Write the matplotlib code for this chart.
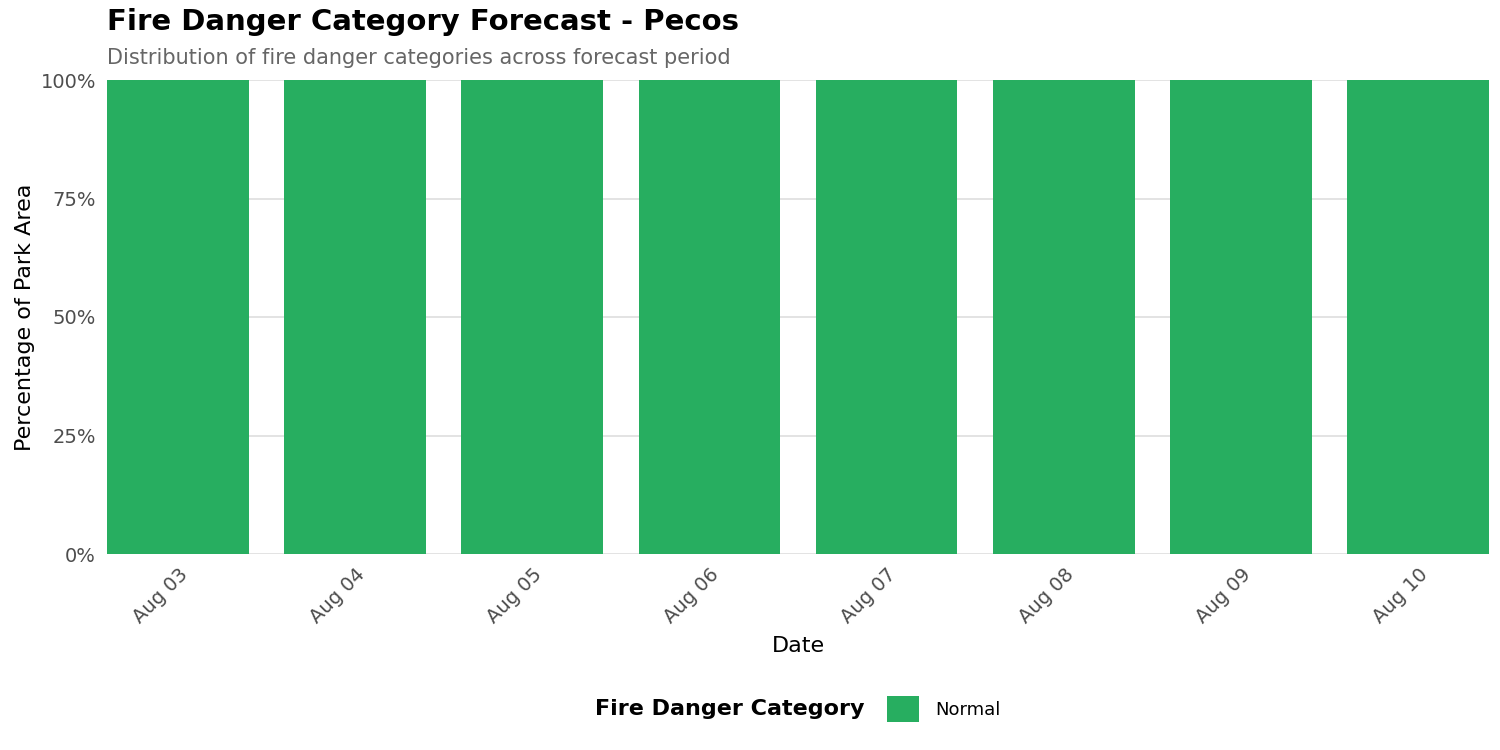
import matplotlib
matplotlib.use("Agg")
import matplotlib.pyplot as plt
from matplotlib.patches import Patch
from matplotlib.offsetbox import HPacker
import numpy as np

dates = ["Aug 03", "Aug 04", "Aug 05", "Aug 06", "Aug 07", "Aug 08", "Aug 09", "Aug 10"]
normal_share = [1.0, 1.0, 1.0, 1.0, 1.0, 1.0, 1.0, 1.0]
category = "Normal"
color_normal = "#27AE60"
yticks = [0, 0.25, 0.5, 0.75, 1.0]
ytick_labels = ["0%", "25%", "50%", "75%", "100%"]

fig = plt.figure(figsize=(15, 7.5), dpi=100)
ax = fig.add_axes([107/1500, 1-554/750, (1489-107)/1500, (554-80)/750])

x = np.arange(len(dates))
ax.bar(x, normal_share, width=0.8, color=color_normal, zorder=2, label=category)
ax.set_xlim(-0.4, len(dates) - 0.6)
ax.set_ylim(0, 1)
ax.set_yticks(yticks)
ax.set_yticklabels(ytick_labels)
ax.set_xticks(x)
ax.set_xticklabels(dates, rotation=45, ha="right", va="top", rotation_mode="anchor")
ax.tick_params(axis="both", length=0, labelsize=14, labelcolor="#4d4d4d")
ax.tick_params(axis="x", pad=8)
ax.tick_params(axis="y", pad=8)
for s in ax.spines.values():
    s.set_visible(False)
ax.grid(axis="y", color="#dedede", linewidth=1.2, zorder=0)
ax.set_axisbelow(True)

ax.set_xlabel("Date", fontsize=16, labelpad=6)
ax.set_ylabel("Percentage of Park Area", fontsize=16, labelpad=4)

fig.text(107/1500, 1-22/750, "Fire Danger Category Forecast - Pecos", fontsize=21,
         fontweight="bold", ha="left", va="center")
fig.text(107/1500, 1-58/750, "Distribution of fire danger categories across forecast period",
         fontsize=15, color="#666666", ha="left", va="center")

handles = [Patch(facecolor=color_normal, edgecolor="none", label=category)]
leg = fig.legend(handles=handles, loc="center", bbox_to_anchor=(798/1500, 1-709/750),
                 ncol=1, frameon=False, title="Fire Danger Category",
                 title_fontproperties={"weight": "bold", "size": 16},
                 fontsize=13, handlelength=1.8, handleheight=1.8, handletextpad=0.9)
title_box = leg._legend_title_box
handle_box = leg._legend_handle_box
leg._legend_box._children = [HPacker(pad=0, sep=16, children=[title_box, handle_box], align="center")]

fig.savefig("out.png", dpi=100)
